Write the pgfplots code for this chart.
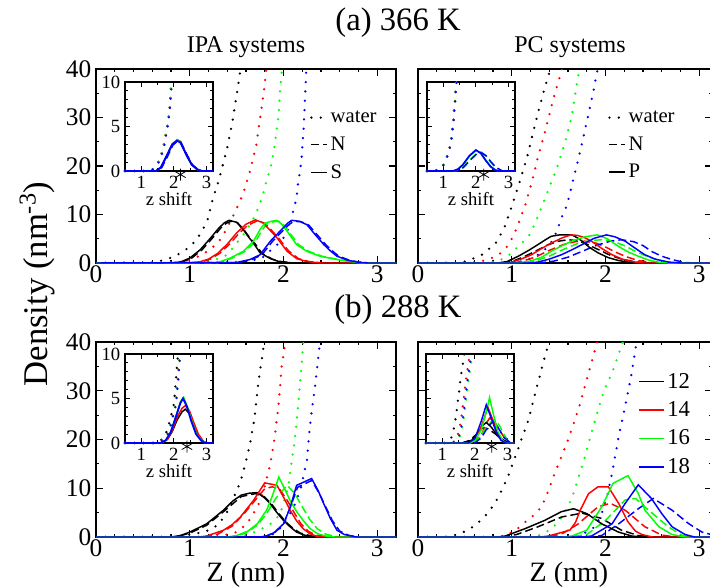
\documentclass[border=0pt]{standalone}
\usepackage{fontspec}
\setmainfont{Liberation Serif}
\usepackage{pgfplots}
\pgfplotsset{compat=1.18}

\tikzset{
  wat/.style={line width=1.9pt, dash pattern=on 0pt off 7pt, line cap=round},
  nn/.style={line width=1.1pt, dash pattern=on 6pt off 3pt},
  ss/.style={line width=1.1pt},
}
\pgfplotsset{
  base/.style={scale only axis, anchor=south west, tick align=inside,
    axis line style={line width=0.9pt},
    every tick/.style={black, line width=0.8pt},
    /pgf/number format/assume math mode=true},
  mainax/.style={base, width=225pt, height=145.5pt, xmin=0, xmax=3.2, ymin=0, ymax=40,
    xtick={0,1,2,3}, minor x tick num=4, ytick={0,10,...,40}, minor y tick num=1,
    major tick length=5pt, minor tick length=2.6pt,
    tick label style={font=\fontsize{19}{19}\selectfont},
    xticklabel style={inner sep=1pt, yshift=-1pt}},
  rightax/.style={width=220.5pt, xmax=3.136, yticklabels={}},
  inax/.style={base, width=66pt, height=66.75pt, xmin=0.5, xmax=3.2, ymin=0, ymax=10,
    xtick={1,2,3}, minor x tick num=1, ytick={0,5,10}, minor y tick num=4,
    major tick length=4pt, minor tick length=2.2pt, clip=false,
    axis background/.style={fill=white},
    tick label style={font=\fontsize{14}{14}\selectfont},
    xlabel={z shift}, xlabel style={font=\fontsize{14}{14}\selectfont, yshift=4pt}},
  leg/.style={legend style={draw=none, fill=none, anchor=north west, inner sep=0pt,
      row sep=5.2pt, /tikz/every even column/.style={column sep=2pt}},
    legend cell align=left},
  star/.style={only marks, mark=asterisk, mark size=4.5pt, black, mark options={line width=0.6pt}},
}

\begin{document}
\begin{tikzpicture}
\path[use as bounding box] (0,0) rectangle (532.5pt,-441pt);

% ---------------- (a) 366 K, IPA ----------------
\begin{axis}[mainax, at={(72pt,-197.25pt)}, leg,
  legend style={at={(axis description cs:0.713,0.80)}, font=\fontsize{15.5}{15.5}\selectfont},
  legend image code/.code={\draw[#1] (0pt,0pt) -- (11.5pt,0pt);}]
\addlegendimage{black,wat}\addlegendentry{water}
\addlegendimage{black,nn}\addlegendentry{N}
\addlegendimage{black,ss}\addlegendentry{S}
\addplot[black,wat] coordinates {(0,0)(0.6,0.1)(0.7,0.5)(0.8,1.1)(0.9,2.0)(1.0,3.3)(1.07,4.8)(1.13,6.5)(1.19,8.9)(1.25,13.5)(1.30,16.5)(1.35,20)(1.40,23.8)(1.45,28.5)(1.50,34.6)(1.55,41)};
\addplot[red,wat] coordinates {(0,0)(0.85,0.1)(0.95,0.4)(1.05,1.0)(1.15,1.9)(1.22,2.9)(1.30,4.1)(1.38,6.6)(1.47,10)(1.53,12.5)(1.58,14.9)(1.65,19.5)(1.71,24.3)(1.75,29.8)(1.79,35.3)(1.82,40.5)};
\addplot[green,wat] coordinates {(0,0)(1.1,0.1)(1.2,0.4)(1.3,0.9)(1.40,1.7)(1.50,4.1)(1.57,5.8)(1.64,7.9)(1.70,9.9)(1.75,12.3)(1.79,14.7)(1.82,17.1)(1.86,19.5)(1.89,22.3)(1.91,25)(1.93,27.8)(1.95,30.9)(1.96,34.6)(1.98,39.4)(1.99,41)};
\addplot[blue,wat] coordinates {(0,0)(1.45,0.1)(1.6,0.4)(1.7,0.7)(1.77,1.0)(1.89,3.1)(1.98,4.5)(2.04,6.5)(2.08,8.6)(2.11,11.3)(2.14,13.4)(2.15,15.8)(2.17,18.2)(2.19,20.9)(2.20,23.7)(2.21,26.4)(2.22,29.8)(2.23,34)(2.24,39.1)(2.25,41)};
\addplot[black,nn] coordinates {(0,0)(0.82,0)(0.92,0.2)(1.02,1.0)(1.13,2.7)(1.24,5.1)(1.33,7.2)(1.39,8.2)(1.44,8.6)(1.51,8.3)(1.58,6.8)(1.64,5.2)(1.70,3.9)(1.77,2.0)(1.88,0.8)(1.97,0.3)(2.1,0)(3.2,0)};
\addplot[red,nn] coordinates {(0,0)(1.02,0)(1.12,0.2)(1.22,0.8)(1.32,2.0)(1.42,3.8)(1.52,6.0)(1.62,7.8)(1.72,8.7)(1.80,8.2)(1.87,6.8)(1.95,5.1)(2.02,3.3)(2.06,2.4)(2.16,0.9)(2.27,0.3)(2.42,0)(3.2,0)};
\addplot[green,nn] coordinates {(0,0)(1.32,0.1)(1.45,1.0)(1.59,2.4)(1.70,4.4)(1.77,6.7)(1.82,8.0)(1.89,8.5)(1.95,8.6)(2.00,7.9)(2.06,6.4)(2.16,3.8)(2.27,2.4)(2.41,1.4)(2.59,0.7)(2.73,0.3)(2.87,0)(3.2,0)};
\addplot[blue,nn] coordinates {(0,0)(1.52,0.1)(1.66,0.7)(1.77,1.7)(1.88,4.4)(2.00,6.8)(2.07,8.1)(2.11,8.6)(2.19,8.5)(2.27,7.8)(2.36,5.8)(2.45,3.8)(2.52,2.5)(2.59,1.4)(2.70,0.6)(2.80,0.2)(2.92,0)(3.2,0)};
\addplot[black,ss] coordinates {(0,0)(0.8,0)(0.9,0.2)(1.0,1.0)(1.11,2.7)(1.22,5.1)(1.31,7.2)(1.37,8.3)(1.42,8.8)(1.5,8.4)(1.57,6.9)(1.63,5.3)(1.68,4.1)(1.75,2.1)(1.86,0.9)(1.95,0.3)(2.1,0)(3.2,0)};
\addplot[red,ss] coordinates {(0,0)(1.0,0)(1.1,0.2)(1.2,0.8)(1.3,2.0)(1.4,3.9)(1.5,6.2)(1.6,8.0)(1.7,8.9)(1.78,8.3)(1.85,6.9)(1.93,5.2)(2.0,3.4)(2.04,2.4)(2.14,0.9)(2.25,0.3)(2.4,0)(3.2,0)};
\addplot[green,ss] coordinates {(0,0)(1.3,0.1)(1.43,1.0)(1.57,2.4)(1.68,4.5)(1.75,6.9)(1.8,8.2)(1.87,8.6)(1.93,8.8)(1.98,8.0)(2.04,6.5)(2.14,3.8)(2.25,2.4)(2.39,1.4)(2.57,0.7)(2.71,0.3)(2.85,0)(3.2,0)};
\addplot[blue,ss] coordinates {(0,0)(1.5,0.1)(1.64,0.7)(1.75,1.7)(1.86,4.5)(1.98,6.9)(2.05,8.3)(2.09,8.8)(2.17,8.6)(2.25,7.9)(2.34,5.8)(2.43,3.8)(2.50,2.5)(2.57,1.4)(2.68,0.6)(2.78,0.2)(2.9,0)(3.2,0)};
\end{axis}

\begin{axis}[inax, at={(93.75pt,-128.25pt)}]
\addplot[black,wat] coordinates {(0.5,0)(1.2,0)(1.35,0.2)(1.47,0.6)(1.60,1.7)(1.69,2.9)(1.80,5.1)(1.85,6.3)(1.88,7.5)(1.90,8.8)(1.93,10)};
\addplot[red,wat] coordinates {(0.5,0)(1.2,0)(1.35,0.2)(1.47,0.6)(1.60,1.7)(1.69,2.9)(1.80,5.1)(1.85,6.3)(1.88,7.5)(1.90,8.8)(1.93,10)};
\addplot[green,wat] coordinates {(0.5,0)(1.2,0)(1.35,0.2)(1.47,0.6)(1.60,1.7)(1.69,2.9)(1.80,5.1)(1.85,6.3)(1.88,7.5)(1.90,8.8)(1.93,10)};
\addplot[blue,wat] coordinates {(0.5,0)(1.22,0)(1.37,0.2)(1.49,0.6)(1.62,1.7)(1.71,2.9)(1.81,5.1)(1.86,6.3)(1.89,7.5)(1.91,8.8)(1.94,10)};
\addplot[black,ss] coordinates {(0.5,0)(1.45,0)(1.6,0.4)(1.78,1.7)(1.95,3.0)(2.1,3.5)(2.2,3.3)(2.4,1.7)(2.55,0.7)(2.71,0.2)(2.85,0)(3.2,0)};
\addplot[red,ss] coordinates {(0.5,0)(1.45,0)(1.6,0.4)(1.78,1.7)(1.95,3.0)(2.1,3.5)(2.2,3.3)(2.4,1.7)(2.55,0.7)(2.71,0.2)(2.85,0)(3.2,0)};
\addplot[green,ss] coordinates {(0.5,0)(1.45,0)(1.6,0.4)(1.78,1.7)(1.95,3.0)(2.1,3.5)(2.2,3.3)(2.4,1.7)(2.55,0.7)(2.71,0.2)(2.85,0)(3.2,0)};
\addplot[blue,nn] coordinates {(0.5,0)(1.48,0)(1.63,0.4)(1.8,1.6)(1.97,2.9)(2.12,3.4)(2.22,3.2)(2.42,1.7)(2.57,0.7)(2.73,0.2)(2.87,0)(3.2,0)};
\addplot[blue,line width=1.4pt] coordinates {(0.5,0)(1.45,0)(1.6,0.4)(1.78,1.7)(1.95,3.0)(2.1,3.4)(2.2,3.2)(2.4,1.7)(2.55,0.7)(2.71,0.2)(2.85,0)(3.2,0)};
\addplot[star] coordinates {(2.2,-0.4)};
\end{axis}

% ---------------- (a) 366 K, PC ----------------
\begin{axis}[mainax, rightax, at={(313.5pt,-197.25pt)}, leg,
  legend style={at={(axis description cs:0.646,0.80)}, font=\fontsize{15.5}{15.5}\selectfont},
  legend image code/.code={\draw[#1] (0pt,0pt) -- (11.5pt,0pt);}]
\addlegendimage{black,wat}\addlegendentry{water}
\addlegendimage{black,nn}\addlegendentry{N}
\addlegendimage{black,ss}\addlegendentry{P}
\addplot[black,wat] coordinates {(0,0)(0.35,0)(0.5,0.3)(0.6,1.0)(0.68,1.7)(0.75,2.8)(0.82,3.8)(0.92,7.2)(1.00,11.7)(1.09,17.1)(1.17,22.3)(1.23,27.1)(1.29,31.7)(1.35,36)(1.41,39.8)(1.45,43)};
\addplot[red,wat] coordinates {(0,0)(0.55,0)(0.65,0.3)(0.75,0.7)(0.86,1.7)(0.94,3.1)(1.00,5.0)(1.06,7.5)(1.15,12.3)(1.22,17.1)(1.28,21.9)(1.35,26.7)(1.44,33.6)(1.53,39.6)(1.56,42)};
\addplot[green,wat] coordinates {(0,0)(0.7,0)(0.82,0.3)(0.93,1.0)(1.0,2.1)(1.09,3.8)(1.18,5.5)(1.25,8.2)(1.37,14.1)(1.48,19.5)(1.57,25)(1.64,30.2)(1.69,36.4)(1.72,39.8)(1.74,42)};
\addplot[blue,wat] coordinates {(0,0)(0.95,0)(1.1,0.3)(1.21,1.0)(1.28,1.7)(1.35,2.7)(1.43,4.5)(1.48,6.5)(1.53,9.3)(1.59,12)(1.66,17.5)(1.73,23)(1.80,29.1)(1.87,35.3)(1.91,39.4)(1.94,42)};
\addplot[black,nn] coordinates {(0,0)(0.9,0)(1.0,0.3)(1.12,1.2)(1.25,2.4)(1.38,3.7)(1.50,4.5)(1.60,4.8)(1.70,4.6)(1.80,3.9)(1.92,2.8)(2.05,1.6)(2.17,0.8)(2.30,0.3)(2.45,0)(3.2,0)};
\addplot[red,nn] coordinates {(0,0)(1.0,0)(1.1,0.3)(1.25,1.2)(1.40,2.6)(1.55,3.8)(1.68,4.4)(1.78,4.5)(1.90,4.1)(2.00,3.3)(2.10,2.3)(2.22,1.3)(2.35,0.5)(2.5,0.1)(2.6,0)(3.2,0)};
\addplot[green,nn] coordinates {(0,0)(1.1,0)(1.25,0.4)(1.40,1.4)(1.55,2.8)(1.70,4.0)(1.83,4.6)(1.96,4.8)(2.08,4.5)(2.20,3.6)(2.32,2.4)(2.45,1.3)(2.58,0.5)(2.7,0.1)(2.8,0)(3.2,0)};
\addplot[blue,nn] coordinates {(0,0)(1.3,0)(1.45,0.4)(1.60,1.2)(1.75,2.4)(1.90,3.6)(2.05,4.5)(2.17,4.8)(2.30,4.4)(2.40,3.6)(2.49,2.4)(2.60,1.4)(2.71,0.7)(2.85,0.1)(2.95,0)(3.2,0)};
\addplot[black,ss] coordinates {(0,0)(0.85,0)(0.95,0.3)(1.07,1.4)(1.18,2.6)(1.28,3.8)(1.36,4.8)(1.42,5.5)(1.51,5.8)(1.64,5.8)(1.70,5.2)(1.75,4.5)(1.83,3.2)(1.92,2.1)(2.03,1.1)(2.14,0.5)(2.28,0.1)(2.4,0)(3.2,0)};
\addplot[red,ss] coordinates {(0,0)(0.95,0)(1.0,0.2)(1.10,0.8)(1.21,1.7)(1.32,3.0)(1.42,4.1)(1.54,5.2)(1.63,5.8)(1.70,5.7)(1.78,5.2)(1.85,4.5)(1.96,3.0)(2.07,1.7)(2.18,0.8)(2.28,0.3)(2.4,0)(3.2,0)};
\addplot[green,ss] coordinates {(0,0)(1.05,0)(1.2,0.4)(1.32,1.2)(1.42,2.4)(1.53,3.5)(1.64,4.5)(1.78,5.4)(1.91,5.8)(2.02,5.0)(2.14,3.4)(2.25,2.2)(2.35,1.4)(2.46,0.6)(2.56,0.2)(2.7,0)(3.2,0)};
\addplot[blue,ss] coordinates {(0,0)(1.2,0)(1.28,0.2)(1.40,0.8)(1.53,1.7)(1.65,2.8)(1.75,3.8)(1.88,5.1)(2.01,5.8)(2.10,5.4)(2.21,4.5)(2.32,3.0)(2.42,1.7)(2.53,0.8)(2.67,0.2)(2.8,0)(3.2,0)};
\end{axis}

\begin{axis}[inax, at={(320.25pt,-128.25pt)}, yticklabels={}]
\addplot[black,wat] coordinates {(0.5,0)(0.85,0.1)(0.95,0.4)(1.05,1.0)(1.16,2.1)(1.23,3.2)(1.28,4.75)(1.31,5.7)(1.33,6.8)(1.36,8.0)(1.38,9.3)(1.40,10)};
\addplot[red,wat] coordinates {(0.5,0)(0.85,0.1)(0.95,0.4)(1.05,1.0)(1.16,2.1)(1.23,3.2)(1.28,4.75)(1.31,5.7)(1.33,6.8)(1.36,8.0)(1.38,9.3)(1.40,10)};
\addplot[green,wat] coordinates {(0.5,0)(0.85,0.1)(0.95,0.4)(1.05,1.0)(1.16,2.1)(1.23,3.2)(1.28,4.75)(1.31,5.7)(1.33,6.8)(1.36,8.0)(1.38,9.3)(1.40,10)};
\addplot[blue,wat] coordinates {(0.5,0)(0.86,0.1)(0.96,0.4)(1.06,1.0)(1.17,2.1)(1.24,3.2)(1.29,4.75)(1.32,5.7)(1.34,6.8)(1.37,8.0)(1.39,9.3)(1.41,10)};
\addplot[green,nn] coordinates {(0.5,0)(1.4,0)(1.6,0.4)(1.8,1.2)(2.0,1.9)(2.14,2.1)(2.3,1.7)(2.45,1.0)(2.6,0.4)(2.8,0)(3.2,0)};
\addplot[blue,nn] coordinates {(0.5,0)(1.42,0)(1.62,0.4)(1.82,1.2)(2.02,1.9)(2.16,2.1)(2.32,1.7)(2.47,1.0)(2.62,0.4)(2.82,0)(3.2,0)};
\addplot[green,ss] coordinates {(0.5,0)(1.3,0)(1.45,0.2)(1.6,0.7)(1.8,1.7)(2.0,2.35)(2.15,2.0)(2.3,1.2)(2.45,0.5)(2.6,0.1)(2.7,0)(3.2,0)};
\addplot[blue,ss,line width=1.3pt] coordinates {(0.5,0)(1.3,0)(1.45,0.2)(1.6,0.7)(1.8,1.7)(2.0,2.35)(2.15,2.0)(2.3,1.2)(2.45,0.5)(2.6,0.1)(2.7,0)(3.2,0)};
\addplot[star] coordinates {(2.24,-0.4)};
\end{axis}

% ---------------- (b) 288 K, IPA ----------------
\begin{axis}[mainax, at={(72pt,-402.75pt)}, height=146.25pt]
\addplot[black,wat] coordinates {(0,0)(0.8,0)(0.9,0.2)(1.0,0.5)(1.15,1.0)(1.25,1.8)(1.32,2.9)(1.40,5.2)(1.48,8.6)(1.54,11.3)(1.59,14.8)(1.64,18.8)(1.69,24.3)(1.73,31.5)(1.78,38)(1.80,41)};
\addplot[red,wat] coordinates {(0,0)(1.2,0)(1.35,0.3)(1.5,1.0)(1.61,2.7)(1.68,4.8)(1.74,7.0)(1.79,9.6)(1.86,15)(1.91,21)(1.95,27.7)(1.98,34.9)(2.02,40)(2.03,42)};
\addplot[green,wat] coordinates {(0,0)(1.4,0)(1.6,0.4)(1.72,1.2)(1.85,2.5)(1.96,4.5)(2.00,7.0)(2.05,10.3)(2.08,14.5)(2.12,19.9)(2.16,27.7)(2.20,37)(2.22,42)};
\addplot[blue,wat] coordinates {(0,0)(1.8,0)(1.91,0.7)(1.98,2.1)(2.04,3.8)(2.11,6.2)(2.18,9.6)(2.25,15.8)(2.28,22.6)(2.34,31.5)(2.38,38.4)(2.40,42)};
\addplot[black,nn] coordinates {(0,0)(0.85,0)(1.0,0.8)(1.18,2.4)(1.36,5.2)(1.55,8.3)(1.70,8.9)(1.80,8.2)(1.88,6.6)(1.95,4.8)(2.03,3.0)(2.10,1.8)(2.18,0.8)(2.3,0.2)(2.4,0)(3.2,0)};
\addplot[red,nn] coordinates {(0,0)(1.15,0)(1.3,0.6)(1.45,2.2)(1.58,4.8)(1.70,7.6)(1.80,9.9)(1.88,10.3)(1.96,9.8)(2.05,7.2)(2.12,4.8)(2.19,2.6)(2.27,1.1)(2.36,0.3)(2.45,0)(3.2,0)};
\addplot[green,nn] coordinates {(0,0)(1.45,0)(1.6,0.8)(1.72,2.4)(1.82,4.8)(1.92,8.0)(2.04,10.6)(2.12,8.9)(2.20,6.2)(2.28,3.6)(2.36,1.7)(2.45,0.6)(2.55,0.1)(2.65,0)(3.2,0)};
\addplot[blue,nn] coordinates {(0,0)(1.78,0)(1.90,0.8)(2.0,2.6)(2.08,6.5)(2.15,10.2)(2.30,11.6)(2.38,9.0)(2.45,6.2)(2.52,3.4)(2.60,1.2)(2.7,0.3)(2.8,0)(3.2,0)};
\addplot[black,ss] coordinates {(0,0)(0.8,0)(0.9,0.3)(1.0,1.0)(1.18,2.7)(1.36,5.5)(1.46,7.4)(1.55,8.6)(1.64,9.0)(1.72,9.1)(1.80,8.0)(1.86,6.8)(1.93,5.0)(2.0,3.4)(2.07,2.1)(2.14,1.0)(2.22,0.4)(2.3,0.1)(2.4,0)(3.2,0)};
\addplot[red,ss] coordinates {(0,0)(1.1,0)(1.18,0.2)(1.36,1.4)(1.45,2.5)(1.54,4.1)(1.61,5.8)(1.68,7.5)(1.80,11.1)(1.93,10.6)(2.0,8.2)(2.07,5.5)(2.14,3.3)(2.21,1.7)(2.28,0.7)(2.36,0.1)(2.45,0)(3.2,0)};
\addplot[green,ss] coordinates {(0,0)(1.4,0)(1.50,0.3)(1.62,1.2)(1.72,2.7)(1.82,5.5)(1.88,8.4)(1.95,12.3)(2.01,10.0)(2.07,7.5)(2.14,5.2)(2.21,3.4)(2.28,1.8)(2.36,0.7)(2.45,0.2)(2.55,0)(3.2,0)};
\addplot[blue,ss] coordinates {(0,0)(1.75,0)(1.82,0.2)(1.90,0.9)(2.0,2.7)(2.07,6.0)(2.14,10.6)(2.22,11.3)(2.30,12.0)(2.37,9.5)(2.43,6.8)(2.50,3.8)(2.57,1.4)(2.65,0.5)(2.78,0)(3.2,0)};
\end{axis}

\begin{axis}[inax, at={(93.75pt,-332.25pt)}]
\addplot[black,wat] coordinates {(0.5,0)(1.45,0)(1.6,0.3)(1.73,0.8)(1.83,1.9)(1.91,3.05)(1.99,4.2)(2.02,5.3)(2.06,6.9)(2.09,8.4)(2.12,9.7)(2.13,10)};
\addplot[red,wat] coordinates {(0.5,0)(1.5,0)(1.65,0.3)(1.78,0.8)(1.88,1.9)(1.96,3.05)(2.04,4.2)(2.07,5.3)(2.11,6.9)(2.14,8.4)(2.17,9.7)(2.18,10)};
\addplot[green,wat] coordinates {(0.5,0)(1.51,0)(1.66,0.3)(1.79,0.8)(1.89,1.9)(1.97,3.05)(2.05,4.2)(2.08,5.3)(2.12,6.9)(2.15,8.4)(2.18,9.7)(2.19,10)};
\addplot[blue,wat] coordinates {(0.5,0)(1.52,0)(1.67,0.3)(1.80,0.8)(1.90,1.9)(1.98,3.05)(2.06,4.2)(2.09,5.3)(2.13,6.9)(2.16,8.4)(2.19,9.7)(2.20,10)};
\addplot[black,ss] coordinates {(0.5,0)(1.6,0)(1.8,0.4)(1.95,1.3)(2.1,2.6)(2.25,3.5)(2.35,3.8)(2.48,3.3)(2.6,2.2)(2.75,0.9)(2.9,0.2)(3.0,0)(3.2,0)};
\addplot[red,ss] coordinates {(0.5,0)(1.62,0)(1.8,0.4)(1.95,1.4)(2.1,2.9)(2.25,3.9)(2.35,4.2)(2.48,3.6)(2.6,2.4)(2.75,1.0)(2.9,0.2)(3.0,0)(3.2,0)};
\addplot[green,ss] coordinates {(0.5,0)(1.6,0)(1.75,0.3)(1.9,1.2)(2.05,2.9)(2.2,4.6)(2.3,5.15)(2.42,4.0)(2.55,2.5)(2.7,1.0)(2.85,0.3)(2.97,0)(3.2,0)};
\addplot[blue,line width=1.4pt] coordinates {(0.5,0)(1.6,0)(1.75,0.3)(1.9,1.2)(2.05,2.8)(2.2,4.5)(2.28,5.0)(2.4,4.1)(2.53,2.5)(2.68,1.0)(2.83,0.3)(2.95,0)(3.2,0)};
\addplot[star] coordinates {(2.4,-0.4)};
\end{axis}

% ---------------- (b) 288 K, PC ----------------
\begin{axis}[mainax, rightax, at={(313.5pt,-402.75pt)}, height=146.25pt, leg,
  legend style={at={(axis description cs:0.748,0.856)}, font=\fontsize{17}{17}\selectfont, row sep=4.6pt},
  legend image code/.code={\draw[#1] (0pt,0pt) -- (18.75pt,0pt);}]
\addlegendimage{black,ss}\addlegendentry{12}
\addlegendimage{red,ss}\addlegendentry{14}
\addlegendimage{green,ss}\addlegendentry{16}
\addlegendimage{blue,ss}\addlegendentry{18}
\addplot[black,wat] coordinates {(0,0)(0.3,0)(0.38,0.3)(0.45,0.7)(0.55,1.6)(0.64,2.9)(0.73,4.6)(0.82,6.9)(0.89,9.5)(0.96,12.4)(1.07,18.2)(1.18,24.1)(1.26,30.2)(1.35,36.8)(1.39,39.5)(1.42,42)};
\addplot[red,wat] coordinates {(0,0)(0.85,0)(0.95,0.4)(1.05,1.5)(1.12,2.7)(1.22,4.2)(1.32,6.2)(1.39,9.5)(1.46,13.1)(1.53,16.5)(1.60,19.9)(1.71,26.1)(1.80,32.3)(1.86,36.5)(1.91,40)(1.93,42)};
\addplot[green,wat] coordinates {(0,0)(1.2,0)(1.3,0.4)(1.40,1.4)(1.50,3.1)(1.57,5.2)(1.64,7.9)(1.70,11.5)(1.76,15.1)(1.87,22.7)(1.98,29.9)(2.07,33.7)(2.12,36.4)(2.19,40.2)(2.21,42)};
\addplot[blue,wat] coordinates {(0,0)(1.6,0)(1.75,0.5)(1.89,2.1)(1.96,4.8)(2.02,8.6)(2.07,13.1)(2.14,20.6)(2.21,26.8)(2.28,33.7)(2.33,39.9)(2.35,42)};
\addplot[black,nn] coordinates {(0,0)(0.9,0)(1.05,0.5)(1.28,2.1)(1.53,4.1)(1.75,4.9)(1.96,3.8)(2.17,1.4)(2.35,0.3)(2.5,0)(3.2,0)};
\addplot[red,nn] coordinates {(0,0)(1.4,0)(1.55,0.8)(1.71,2.7)(1.92,6.2)(2.05,6.9)(2.21,5.5)(2.42,2.1)(2.60,0.4)(2.75,0)(3.2,0)};
\addplot[green,nn] coordinates {(0,0)(1.6,0)(1.8,0.5)(2.0,3.4)(2.21,7.6)(2.32,7.9)(2.46,5.5)(2.67,2.1)(2.81,0.4)(2.95,0)(3.2,0)};
\addplot[blue,nn] coordinates {(0,0)(1.85,0)(1.96,0.3)(2.14,2.7)(2.35,5.8)(2.51,7.9)(2.71,5.5)(2.89,2.7)(3.03,1.0)(3.15,0.4)(3.3,0.1)};
\addplot[black,ss] coordinates {(0,0)(0.85,0)(0.93,0.2)(1.14,1.7)(1.35,3.4)(1.53,5.2)(1.66,5.8)(1.80,4.8)(1.96,2.7)(2.14,1.0)(2.28,0.2)(2.4,0)(3.2,0)};
\addplot[red,ss] coordinates {(0,0)(1.3,0)(1.39,0.2)(1.62,1.4)(1.68,3.0)(1.73,5.5)(1.82,8.9)(1.92,10.3)(2.03,10.3)(2.14,6.9)(2.24,3.1)(2.32,1.2)(2.39,0.5)(2.5,0)(3.2,0)};
\addplot[green,ss] coordinates {(0,0)(1.55,0)(1.64,0.2)(1.80,1.4)(1.96,6.2)(2.08,11.0)(2.24,12.6)(2.35,8.9)(2.42,5.5)(2.57,2.1)(2.71,0.5)(2.85,0)(3.2,0)};
\addplot[blue,ss] coordinates {(0,0)(1.75,0)(1.85,0.2)(2.07,2.7)(2.21,6.9)(2.35,10.7)(2.49,7.9)(2.60,4.8)(2.71,2.1)(2.85,0.5)(2.95,0)(3.2,0)};
\end{axis}

\begin{axis}[inax, at={(319.5pt,-332.25pt)}, yticklabels={}]
\addplot[black,wat] coordinates {(0.5,0)(1.1,0)(1.18,0.15)(1.26,0.4)(1.35,1.5)(1.42,3.0)(1.47,4.5)(1.52,6.0)(1.57,7.5)(1.63,8.9)(1.66,9.8)(1.67,10)};
\addplot[red,wat] coordinates {(0.5,0)(1.27,0)(1.35,0.15)(1.43,0.4)(1.52,1.5)(1.59,3.0)(1.64,4.5)(1.69,6.0)(1.74,7.5)(1.80,8.9)(1.83,9.8)(1.84,10)};
\addplot[green,wat] coordinates {(0.5,0)(1.35,0)(1.43,0.15)(1.51,0.4)(1.60,1.5)(1.67,3.0)(1.72,4.5)(1.77,6.0)(1.82,7.5)(1.88,8.9)(1.91,9.8)(1.92,10)};
\addplot[blue,wat] coordinates {(0.5,0)(1.32,0)(1.40,0.15)(1.48,0.4)(1.57,1.5)(1.64,3.0)(1.69,4.5)(1.74,6.0)(1.79,7.5)(1.85,8.9)(1.88,9.8)(1.89,10)};
\addplot[black,nn] coordinates {(0.5,0)(1.6,0)(1.85,0.3)(2.05,1.0)(2.24,1.7)(2.4,1.6)(2.6,1.1)(2.8,0.5)(3.0,0.1)(3.1,0)(3.2,0)};
\addplot[red,nn] coordinates {(0.5,0)(2.0,0)(2.2,0.9)(2.35,2.2)(2.45,2.8)(2.6,2.4)(2.8,1.2)(2.95,0.3)(3.1,0)(3.2,0)};
\addplot[green,nn] coordinates {(0.5,0)(1.9,0)(2.1,0.4)(2.3,1.5)(2.5,2.4)(2.61,2.6)(2.75,2.0)(2.9,0.9)(3.05,0.1)(3.15,0)(3.2,0)};
\addplot[blue,nn] coordinates {(0.5,0)(2.0,0)(2.2,0.6)(2.4,1.8)(2.55,2.4)(2.7,1.8)(2.9,0.6)(3.1,0)(3.2,0)};
\addplot[black,ss] coordinates {(0.5,0)(1.6,0)(1.9,0.3)(2.1,1.2)(2.25,2.0)(2.35,2.3)(2.5,1.8)(2.7,0.8)(2.9,0.1)(3.0,0)(3.2,0)};
\addplot[red,ss] coordinates {(0.5,0)(1.85,0)(2.05,0.5)(2.25,2.4)(2.40,4.0)(2.55,2.6)(2.7,1.0)(2.85,0.2)(2.95,0)(3.2,0)};
\addplot[green,ss] coordinates {(0.5,0)(1.85,0)(2.0,0.3)(2.2,1.5)(2.35,3.5)(2.45,5.1)(2.55,3.5)(2.7,1.3)(2.85,0.3)(2.95,0)(3.2,0)};
\addplot[blue,ss] coordinates {(0.5,0)(1.8,0)(2.0,0.5)(2.2,2.5)(2.35,4.3)(2.5,2.8)(2.65,1.3)(2.8,0.3)(2.95,0)(3.2,0)};
\addplot[star] coordinates {(2.52,-0.4)};
\end{axis}

% ---------------- titles and labels ----------------
\node[inner sep=0pt, font=\fontsize{24.5}{24.5}\selectfont] at (298.5pt,-17pt) {(a) 366 K};
\node[inner sep=0pt, font=\fontsize{24.5}{24.5}\selectfont] at (298.5pt,-232pt) {(b) 288 K};
\node[inner sep=0pt, font=\fontsize{18}{18}\selectfont] at (184.5pt,-35.25pt) {IPA systems};
\node[inner sep=0pt, font=\fontsize{18}{18}\selectfont] at (427.5pt,-35.25pt) {PC systems};
\node[inner sep=0pt, font=\fontsize{21}{21}\selectfont] at (184.5pt,-431pt) {Z (nm)};
\node[inner sep=0pt, font=\fontsize{21}{21}\selectfont] at (426.75pt,-431pt) {Z (nm)};
\node[inner sep=0pt, font=\fontsize{26}{26}\selectfont, rotate=90] at (28pt,-213pt) {Density (nm\textsuperscript{-3})};
\end{tikzpicture}
\end{document}
